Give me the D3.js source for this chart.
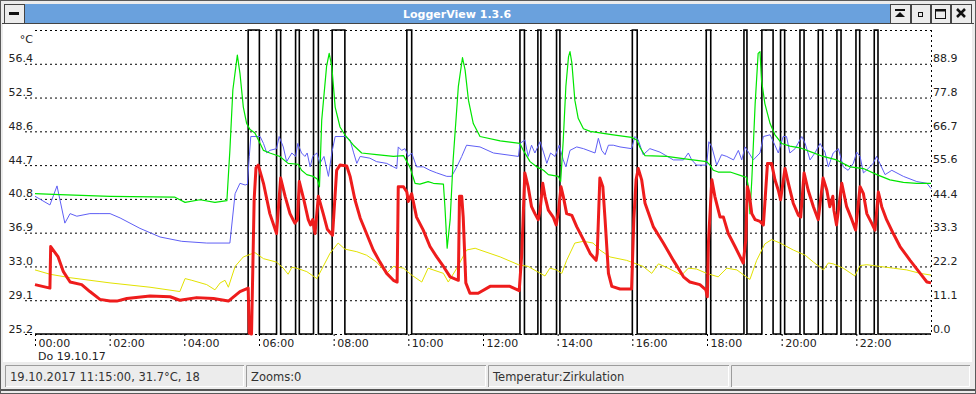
<!DOCTYPE html>
<html>
<head>
<meta charset="utf-8">
<script src="https://cdn.jsdelivr.net/npm/d3@7/dist/d3.min.js"></script>
<style>
  body { margin: 0; background: #ececec; }
  svg { display: block; font-family: "DejaVu Sans", sans-serif; }
</style>
</head>
<body>
<script>
// time in hours (0..24), temperatures in °C (left axis)
var redTimes = [0,0.40,0.42,0.62,0.76,0.94,1.25,1.47,1.74,2.01,2.19,2.46,3.08,3.62,3.88,4.33,4.78,5.18,5.49,5.71,5.74,5.80,5.87,5.92,5.98,
  6.12,6.29,6.47,6.58,6.70,6.83,6.96,7.03,7.08,7.19,7.32,7.38,7.44,7.50,7.59,7.72,7.83,7.97,8.08,8.17,8.35,8.44,8.57,8.71,8.88,9.06,9.24,9.42,9.60,9.70,
  9.73,9.87,9.96,10.00,10.09,10.22,10.40,10.58,10.76,10.94,11.12,11.34,11.37,11.43,11.47,11.54,11.65,11.87,12.19,12.72,12.97,13.04,13.12,13.21,13.30,13.39,13.48,13.53,
  13.60,13.66,13.75,13.88,13.96,14.02,14.09,14.15,14.24,14.38,14.51,14.69,14.87,15.03,15.06,15.13,15.21,15.27,15.36,15.45,15.67,15.98,16.04,16.10,16.16,16.25,16.34,
  16.56,16.83,17.10,17.37,17.54,17.81,17.97,18.01,18.04,18.13,18.21,18.35,18.44,18.57,18.75,18.97,19.04,19.08,19.13,19.20,19.29,19.42,19.51,19.55,19.62,19.73,19.82,
  19.91,19.97,20.09,20.18,20.31,20.45,20.51,20.60,20.71,20.85,20.98,21.11,21.21,21.29,21.37,21.40,21.47,21.61,21.74,21.88,21.98,22.10,22.19,22.28,22.41,22.50,22.59,
  22.68,22.81,22.99,23.17,23.44,23.71,23.89,24.00];
var redTemps = [30.9,30.5,35.3,34.1,32.4,31.2,30.9,30.1,29.2,29.0,29.0,29.3,29.6,29.5,29.1,29.4,29.3,29.0,30.1,30.5,25.3,25.2,40.7,44.4,44.7,
  42.6,39.1,36.8,43.2,41.1,39.1,38.0,38.4,42.8,40.9,38.4,37.8,38.4,36.8,41.1,39.1,37.3,36.6,44.1,44.7,44.6,43.4,40.7,38.6,36.8,34.9,33.5,32.2,31.4,31.2,
  42.2,42.2,41.6,40.5,41.4,38.7,37.2,35.3,34.1,33.0,31.8,31.4,41.1,41.1,38.7,31.1,29.9,29.9,30.7,30.7,30.2,34.5,43.8,42.2,39.9,39.1,38.4,39.5,
  42.6,41.1,39.5,38.7,37.8,39.3,42.2,41.1,39.1,38.9,37.6,36.1,34.5,33.7,34.5,43.2,42.2,38.4,32.2,30.7,30.4,30.4,38.4,43.0,44.3,43.0,40.3,
  37.6,35.7,33.7,31.8,31.2,30.9,30.3,29.5,35.9,43.0,41.1,38.7,38.7,36.8,35.3,33.4,36.1,42.2,41.4,39.1,38.4,38.2,37.8,40.3,44.9,44.9,43.0,
  41.8,40.7,44.3,42.6,40.3,38.9,38.7,43.8,41.8,39.9,38.4,43.2,41.8,39.9,41.1,39.5,37.8,42.6,39.9,38.4,37.2,42.2,41.4,39.1,38.0,37.2,41.6,
  39.9,38.4,36.8,35.3,33.7,32.2,31.2,31.1];

var greenTimes = [0,0.67,2.01,3.75,3.88,4.02,4.42,4.82,5.14,5.22,5.30,5.42,5.49,5.58,5.67,5.76,5.89,6.03,6.12,6.29,6.56,6.78,7.05,7.14,7.28,7.45,7.56,7.62,
  7.68,7.81,7.88,7.95,8.04,8.17,8.30,8.53,8.75,9.15,9.60,9.87,10.04,10.18,10.31,10.53,10.67,10.94,10.98,11.04,11.12,11.20,11.34,11.45,11.52,11.61,11.74,11.92,
  12.46,12.99,13.08,13.26,13.44,13.62,13.75,14.02,14.08,14.15,14.22,14.29,14.33,14.38,14.46,14.55,14.69,14.87,15.49,15.98,16.12,16.21,16.34,16.92,17.46,17.99,
  18.08,18.17,18.30,18.62,18.97,19.06,19.11,19.15,19.20,19.29,19.37,19.42,19.46,19.55,19.69,19.82,20.00,20.22,20.49,20.80,21.11,21.47,21.83,22.19,22.55,22.90,
  23.26,23.62,24.00];
var greenTemps = [41.4,41.3,41.1,41.0,40.7,40.4,40.7,40.4,40.6,46.4,53.4,57.4,55.3,51.4,49.5,48.8,48.4,47.2,46.4,46.1,45.7,44.9,44.8,44.1,43.6,43.4,43.1,42.2,
  49.9,56.1,57.6,56.1,51.4,49.1,48.2,47.0,46.1,45.9,45.7,45.8,44.5,42.6,42.5,42.8,42.6,42.5,39.9,35.1,38.4,45.3,53.8,57.1,55.7,52.2,49.5,48.0,
  47.5,47.2,46.4,45.1,44.5,44.1,43.6,43.4,42.8,47.6,53.8,57.2,57.8,56.5,52.2,50.1,48.9,48.6,48.2,47.9,47.6,46.7,45.8,45.7,45.4,45.1,
  44.7,44.1,43.9,43.9,43.4,43.3,42.2,39.1,43.0,51.8,57.6,57.8,54.5,51.8,49.5,48.2,47.2,46.9,46.7,46.2,45.7,45.3,44.5,44.3,43.6,43.0,
  42.7,42.6,42.6];

var blueTimes = [0,0.40,0.59,0.80,0.94,1.12,1.47,1.74,2.01,2.28,2.81,3.35,3.93,4.60,5.22,5.36,5.49,5.63,5.69,5.74,5.78,6.03,6.12,6.21,6.29,6.47,6.54,6.65,6.74,
  6.88,6.98,7.04,7.14,7.23,7.29,7.37,7.44,7.55,7.63,7.74,7.86,7.95,8.04,8.30,8.44,8.53,8.62,8.71,8.97,9.15,9.42,9.60,9.69,9.73,9.82,9.91,10.00,10.09,10.22,
  10.40,10.58,10.76,11.03,11.16,11.30,11.43,11.56,11.92,12.28,12.95,12.99,13.12,13.21,13.30,13.39,13.53,13.62,13.71,13.81,13.93,14.04,14.15,14.22,14.33,14.51,
  14.69,15.00,15.09,15.18,15.27,15.36,15.49,15.67,15.98,16.07,16.16,16.29,16.47,16.74,17.10,17.37,17.50,17.59,17.72,17.99,18.05,18.13,18.26,18.39,18.53,18.71,
  18.84,18.93,19.02,19.11,19.24,19.42,19.51,19.69,19.82,19.91,20.04,20.13,20.22,20.36,20.54,20.63,20.76,20.89,21.03,21.16,21.25,21.38,21.52,21.65,21.78,21.92,
  22.01,22.10,22.19,22.32,22.45,22.54,22.63,22.77,22.95,23.26,23.62,23.89,24.00];
var blueTemps = [41.1,40.1,42.3,38.0,39.1,38.8,39.1,39.1,39.1,38.6,37.4,36.4,35.9,35.7,35.7,41.4,42.6,42.4,42.5,45.7,48.0,48.0,47.2,46.1,46.4,46.6,48.0,46.8,45.1,
  46.1,45.7,47.2,46.1,45.7,46.1,44.5,45.7,46.1,44.9,45.7,43.4,46.1,48.0,48.0,47.6,46.2,44.9,45.7,45.5,45.1,44.9,44.5,44.3,46.8,46.4,46.6,45.7,46.1,44.5,
  44.5,44.1,43.8,43.4,43.4,44.5,45.7,47.0,46.8,46.1,45.7,47.2,47.6,45.7,47.0,46.1,47.4,46.2,44.9,46.1,45.7,47.0,45.3,44.5,46.4,46.8,
  46.6,46.1,47.8,46.4,45.9,47.0,47.0,46.8,46.6,48.0,47.6,45.9,46.6,46.2,45.3,45.3,46.1,45.3,44.7,44.7,47.4,46.8,44.7,45.9,45.7,45.3,
  46.4,45.3,46.8,46.2,45.3,46.1,48.0,48.2,47.0,46.1,48.0,48.0,46.1,46.6,48.0,47.2,45.3,46.1,47.2,46.2,44.5,46.1,46.6,44.5,44.1,44.9,
  46.2,45.7,43.8,44.3,44.9,45.7,44.9,43.6,44.1,43.4,42.8,42.6,42.0];

var yellowTimes = [0,0.40,0.94,2.01,3.08,3.88,4.02,4.20,4.60,4.82,4.96,5.09,5.18,5.36,5.58,5.89,6.12,6.47,6.65,6.78,6.88,7.01,7.28,7.55,7.72,7.90,8.12,8.30,
  8.62,8.88,9.15,9.42,9.60,9.87,10.09,10.36,10.53,10.94,11.07,11.30,11.56,11.79,11.92,12.46,12.95,13.21,13.66,13.79,13.97,14.11,14.24,14.46,14.69,14.95,15.13,
  15.40,15.85,16.29,16.52,16.70,16.96,17.32,17.50,17.72,17.99,18.30,18.53,18.80,19.02,19.15,19.33,19.55,19.73,19.96,20.31,20.63,20.85,21.12,21.25,21.38,21.65,
  21.96,22.10,22.28,22.63,22.99,23.35,23.71,24.00];
var yellowTemps = [32.6,32.1,31.7,31.1,30.6,30.1,31.6,31.4,30.9,30.3,31.1,31.4,30.6,33.0,34.1,34.6,33.9,33.5,32.8,32.1,32.9,32.8,32.4,31.6,33.0,34.5,35.7,35.0,
  34.7,34.3,33.5,32.2,33.0,32.8,32.0,31.2,32.8,32.2,31.2,32.8,34.9,35.1,34.9,34.1,33.2,33.0,31.9,32.8,32.6,32.2,33.7,35.7,35.9,35.7,34.9,
  34.1,33.7,33.0,32.2,33.3,32.8,32.0,32.8,32.7,32.2,31.8,32.8,32.6,31.9,31.5,33.7,35.6,36.1,35.7,34.9,34.3,33.5,32.6,33.4,33.3,32.8,
  31.9,33.1,33.2,33.0,32.8,32.6,32.2,32.0];

// pump switched on / off (hours), right axis 0..100
var pumpOn  = [5.71,6.47,6.98,7.46,7.96,9.96,12.99,13.47,13.97,16.00,17.98,18.99,19.47,19.97,20.49,20.98,21.48,21.99,22.48];
var pumpOff = [6.01,6.58,7.08,7.59,8.30,10.09,13.11,13.55,14.06,16.13,18.10,19.07,19.77,20.08,20.60,21.10,21.59,22.09,22.58];

var leftTicks = [25.2,29.1,33.0,36.9,40.8,44.7,48.6,52.5,56.4];
var rightTicks = [0.0,11.1,22.2,33.3,44.4,55.6,66.7,77.8,88.9];
var hourTicks = [0,2,4,6,8,10,12,14,16,18,20,22];
var hourLabels = ["00:00","02:00","04:00","06:00","08:00","10:00","12:00","14:00","16:00","18:00","20:00","22:00"];

var statusTexts = ["19.10.2017 11:15:00, 31.7°C, 18", "Zooms:0", "Temperatur:Zirkulation", ""];

var W = 976, H = 394;
var plot = {left: 35, top: 30, right: 931, bottom: 334};

var svg = d3.select("body").append("svg").attr("width", W).attr("height", H);

// window frame
svg.append("rect").attr("x", 0.5).attr("y", 0.5).attr("width", W - 1).attr("height", H - 1)
  .attr("fill", "#ececec").attr("stroke", "#5a5a5a");
svg.append("rect").attr("x", 25).attr("y", 4).attr("width", 865).attr("height", 19).attr("fill", "#6aa1dd");
svg.append("text").attr("x", 403).attr("y", 18).attr("fill", "#fff").attr("font-size", "11px")
  .attr("font-weight", "bold").text("LoggerView 1.3.6");

var btns = [[4, 20], [890, 20], [911, 19], [931, 19], [951, 20]];
svg.selectAll("rect.btn").data(btns).enter().append("rect").attr("class", "btn")
  .attr("x", function(d) { return d[0] + 0.5; }).attr("y", 4.5)
  .attr("width", function(d) { return d[1]; }).attr("height", 19)
  .attr("fill", "#ececec").attr("stroke", "#444");
// button glyphs
svg.append("rect").attr("x", 9).attr("y", 12).attr("width", 10).attr("height", 3).attr("fill", "#111");
svg.append("rect").attr("x", 895).attr("y", 9).attr("width", 10).attr("height", 2).attr("fill", "#111");
svg.append("path").attr("d", "M895,17 L905,17 L900,12 Z").attr("fill", "#111");
svg.append("rect").attr("x", 918.5).attr("y", 12.5).attr("width", 4).attr("height", 4).attr("fill", "none").attr("stroke", "#111");
svg.append("rect").attr("x", 935.5).attr("y", 9.5).attr("width", 10).attr("height", 9).attr("fill", "none").attr("stroke", "#111");
svg.append("line").attr("x1", 935).attr("x2", 946).attr("y1", 10.5).attr("y2", 10.5).attr("stroke", "#111").attr("stroke-width", 2);
svg.append("path").attr("d", "M957,9 L965,17 M965,9 L957,17").attr("stroke", "#111").attr("stroke-width", 2.5);
svg.append("line").attr("x1", 2).attr("x2", 974).attr("y1", 23.5).attr("y2", 23.5).attr("stroke", "#444");

// chart background
svg.append("rect").attr("x", 3).attr("y", 24).attr("width", 969).attr("height", 338).attr("fill", "#fff");

var x = d3.scaleLinear().domain([0, 24]).range([plot.left, plot.right]);
var yL = d3.scaleLinear().domain([25.2, 60.3]).range([plot.bottom, plot.top]);
var yR = d3.scaleLinear().domain([0, 100]).range([plot.bottom, plot.top]);

var dash = "2,3";

// left axis with grid
var gL = svg.append("g").attr("transform", "translate(" + plot.left + ",0)")
  .call(d3.axisLeft(yL).tickValues(leftTicks).tickSizeInner(-(plot.right - plot.left)).tickSizeOuter(0)
    .tickFormat(d3.format(".1f")));
gL.select(".domain").remove();
gL.selectAll("line").attr("x1", -10).attr("stroke", "#000").attr("stroke-dasharray", dash);
gL.selectAll("text").attr("x", -2).attr("dy", -2).attr("fill", "#222").attr("font-size", "11px")
  .attr("font-family", "DejaVu Sans");

// right axis labels
var gR = svg.append("g").attr("transform", "translate(" + plot.right + ",0)")
  .call(d3.axisRight(yR).tickValues(rightTicks).tickSize(0).tickFormat(d3.format(".1f")));
gR.select(".domain").remove();
gR.selectAll("text").attr("x", 2).attr("dy", -2).attr("fill", "#222").attr("font-size", "11px")
  .attr("font-family", "DejaVu Sans");

// bottom axis with grid
var gB = svg.append("g").attr("transform", "translate(0," + plot.bottom + ")")
  .call(d3.axisBottom(x).tickValues(hourTicks).tickSizeInner(-(plot.bottom - plot.top)).tickSizeOuter(0)
    .tickFormat(function(d, i) { return hourLabels[i]; }));
gB.select(".domain").remove();
gB.selectAll("line").attr("y2", 13).attr("stroke", "#000").attr("stroke-dasharray", dash);
gB.selectAll("text").attr("x", 3).attr("y", 13).attr("dy", 0).attr("text-anchor", "start")
  .attr("fill", "#222").attr("font-size", "11px").attr("font-family", "DejaVu Sans");

// top and right border
svg.append("line").attr("x1", plot.left).attr("x2", plot.right).attr("y1", plot.top + 0.5).attr("y2", plot.top + 0.5)
  .attr("stroke", "#000").attr("stroke-dasharray", dash);
svg.append("line").attr("x1", plot.right + 0.5).attr("x2", plot.right + 0.5).attr("y1", plot.top).attr("y2", plot.bottom)
  .attr("stroke", "#000").attr("stroke-dasharray", dash);

svg.append("text").attr("x", 33).attr("y", 43).attr("text-anchor", "end").attr("font-size", "11px")
  .attr("fill", "#222").text("°C");
svg.append("text").attr("x", 38).attr("y", 360).attr("font-size", "11px").attr("fill", "#222").text("Do 19.10.17");

// series
var pumpData = [[0, 0]];
pumpOn.forEach(function(t, i) {
  pumpData.push([t, 0], [t, 100], [pumpOff[i], 100], [pumpOff[i], 0]);
});
pumpData.push([24, 0]);

var lineR = d3.line().x(function(d) { return x(d[0]); }).y(function(d) { return yR(d[1]); });
var lineL = d3.line().x(function(d) { return x(d[0]); }).y(function(d) { return yL(d[1]); });

function zipSeries(ts, vs) { return ts.map(function(t, i) { return [t, vs[i]]; }); }

svg.append("path").datum(pumpData).attr("d", lineR).attr("fill", "none").attr("stroke", "#000").attr("stroke-width", 1.6);

var series = [
  {t: yellowTimes, v: yellowTemps, c: "#e2e200", w: 1},
  {t: blueTimes, v: blueTemps, c: "#5f5ff5", w: 1},
  {t: greenTimes, v: greenTemps, c: "#00e600", w: 1.2},
  {t: redTimes, v: redTemps, c: "#ee1c1c", w: 3}
];
series.forEach(function(s) {
  svg.append("path").datum(zipSeries(s.t, s.v)).attr("d", lineL)
    .attr("fill", "none").attr("stroke", s.c).attr("stroke-width", s.w).attr("stroke-linejoin", "round");
});

// status bar
var cellX = [5, 246, 488, 731];
var cellW = [239, 240, 241, 239];
var cells = svg.selectAll("g.cell").data(statusTexts).enter().append("g").attr("class", "cell");
cells.append("rect").attr("x", function(d, i) { return cellX[i]; }).attr("y", 365)
  .attr("width", function(d, i) { return cellW[i]; }).attr("height", 22).attr("fill", "#ececec");
cells.append("path").attr("d", function(d, i) {
  return "M" + (cellX[i] + 0.5) + ",387 V365.5 H" + (cellX[i] + cellW[i]);
}).attr("fill", "none").attr("stroke", "#9c9c9c");
cells.append("path").attr("d", function(d, i) {
  return "M" + (cellX[i] + 1) + ",386.5 H" + (cellX[i] + cellW[i] - 0.5) + " V366";
}).attr("fill", "none").attr("stroke", "#fff");
cells.append("text").attr("x", function(d, i) { return cellX[i] + 5; }).attr("y", 381)
  .attr("font-size", "11.5px").attr("fill", "#333").text(function(d) { return d; });

svg.append("line").attr("x1", 1).attr("x2", 975).attr("y1", 390).attr("y2", 390).attr("stroke", "#555").attr("stroke-width", 2);
</script>
</body>
</html>
